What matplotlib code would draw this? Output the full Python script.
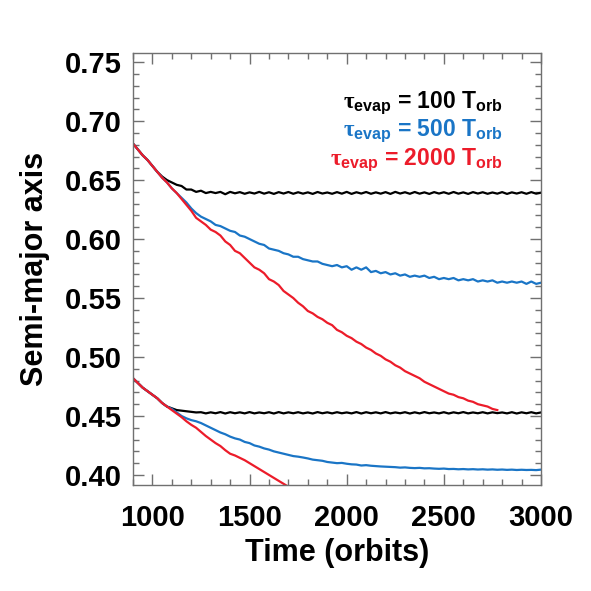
import numpy as np
import matplotlib
matplotlib.use('Agg')
import matplotlib.pyplot as plt
from matplotlib.ticker import MultipleLocator

plt.rcParams['font.family'] = ['Liberation Sans', 'DejaVu Sans']
plt.rcParams['font.weight'] = 'bold'
plt.rcParams['mathtext.fontset'] = 'custom'
plt.rcParams['mathtext.rm'] = 'Liberation Sans:bold'
plt.rcParams['mathtext.bf'] = 'Liberation Sans:bold'
plt.rcParams['mathtext.sf'] = 'Liberation Serif'

## time grid: one sample every 25 orbits, starting at 900
t0, dt = 900, 25

# --- upper group (start at a = 0.68) ---
a_up_100 = [0.681, 0.676, 0.671, 0.667, 0.662, 0.657, 0.653, 0.650, 0.648, 0.646,
            0.645, 0.642, 0.642, 0.640, 0.641, 0.639, 0.640, 0.639, 0.640, 0.638,
            0.640,
            0.6388, 0.6398, 0.6384, 0.6396, 0.6386, 0.6400, 0.6385, 0.6397, 0.6383, 0.6398,
            0.6386, 0.6399, 0.6384, 0.6397, 0.6385, 0.6396, 0.6383, 0.6399, 0.6386, 0.6395,
            0.6384, 0.6398, 0.6385, 0.6400, 0.6383, 0.6397, 0.6386, 0.6399, 0.6384, 0.6396,
            0.6385, 0.6398, 0.6383, 0.6400, 0.6386, 0.6397, 0.6384, 0.6399, 0.6385, 0.6396,
            0.6383, 0.6398, 0.6386, 0.6397, 0.6384, 0.6399, 0.6385, 0.6396, 0.6383, 0.6398,
            0.6386, 0.6397, 0.6384, 0.6395, 0.6385, 0.6398, 0.6383, 0.6396, 0.6386, 0.6397,
            0.6384, 0.6398, 0.6385, 0.6393]

a_up_500 = [0.681, 0.676, 0.671, 0.667, 0.662, 0.657, 0.652, 0.648, 0.643, 0.639,
            0.635, 0.631, 0.626, 0.622, 0.619, 0.617, 0.615, 0.612, 0.611, 0.609,
            0.607, 0.606, 0.603, 0.602, 0.600, 0.598, 0.596, 0.595, 0.592, 0.591,
            0.590, 0.588, 0.587, 0.585, 0.585, 0.583, 0.582, 0.581, 0.581, 0.579,
            0.578, 0.577, 0.578, 0.576, 0.577, 0.574, 0.576, 0.574, 0.576, 0.572,
            0.573, 0.571, 0.572, 0.570, 0.571, 0.569, 0.570, 0.568, 0.569, 0.568,
            0.569, 0.567, 0.568, 0.566, 0.567, 0.566, 0.567, 0.565, 0.566, 0.565,
            0.566, 0.564, 0.565, 0.564, 0.565, 0.563, 0.564, 0.563, 0.564, 0.563,
            0.564, 0.562, 0.564, 0.562, 0.563]

a_up_2000 = [0.681, 0.676, 0.671, 0.667, 0.662, 0.657, 0.652, 0.648, 0.643, 0.639,
             0.634, 0.629, 0.624, 0.618, 0.615, 0.612, 0.608, 0.606, 0.603, 0.598,
             0.595, 0.590, 0.588, 0.584, 0.580, 0.576, 0.574, 0.571, 0.566, 0.564,
             0.561, 0.556, 0.553, 0.550, 0.546, 0.543, 0.539, 0.537, 0.534, 0.532,
             0.529, 0.527, 0.523, 0.521, 0.518, 0.516, 0.513, 0.511, 0.508, 0.506,
             0.503, 0.501, 0.498, 0.496, 0.493, 0.491, 0.488, 0.486, 0.484, 0.482,
             0.479, 0.477, 0.475, 0.473, 0.471, 0.469, 0.468, 0.466, 0.465, 0.463,
             0.462, 0.460, 0.459, 0.458, 0.456, 0.455]

# --- lower group (start at a = 0.48) ---
a_lo_100 = [0.482, 0.478, 0.474, 0.471, 0.468, 0.465, 0.461, 0.458, 0.4565, 0.455,
            0.4545, 0.454, 0.4535, 0.453,
            0.4532, 0.4522, 0.4531, 0.4523, 0.4533, 0.4521, 0.4532, 0.4523, 0.4531, 0.4522,
            0.4533, 0.4522, 0.4530, 0.4523, 0.4532, 0.4521, 0.4533, 0.4522, 0.4531, 0.4523,
            0.4532, 0.4522, 0.4530, 0.4521, 0.4533, 0.4523, 0.4531, 0.4522, 0.4532, 0.4523,
            0.4530, 0.4522, 0.4533, 0.4521, 0.4532, 0.4523, 0.4531, 0.4522, 0.4533, 0.4522,
            0.4530, 0.4523, 0.4532, 0.4521, 0.4531, 0.4522, 0.4533, 0.4523, 0.4530, 0.4522,
            0.4532, 0.4521, 0.4531, 0.4523, 0.4533, 0.4522, 0.4530, 0.4523, 0.4532, 0.4522,
            0.4531, 0.4524, 0.4530, 0.4522, 0.4532, 0.4521, 0.4531, 0.4523, 0.4532, 0.4522,
            0.4530]

a_lo_500 = [0.482, 0.478, 0.474, 0.471, 0.468, 0.465, 0.461, 0.458, 0.456, 0.453,
            0.450, 0.448, 0.4465, 0.4455, 0.444, 0.442, 0.440, 0.438, 0.436, 0.4345,
            0.4325, 0.431, 0.430, 0.428, 0.427, 0.425, 0.424, 0.4225, 0.4215, 0.420,
            0.419, 0.418, 0.417, 0.416, 0.4155, 0.4148, 0.414, 0.413, 0.4125, 0.412,
            0.411, 0.4105, 0.410, 0.4102, 0.4095, 0.409, 0.4088, 0.408, 0.4083, 0.4078,
            0.4075, 0.4072, 0.407, 0.4068, 0.4066, 0.4062, 0.4064, 0.4060, 0.4058, 0.4060,
            0.4056, 0.4057, 0.4054, 0.4052, 0.4054, 0.4050, 0.4051, 0.4048, 0.4050, 0.4047,
            0.4049, 0.4046, 0.4048, 0.4045, 0.4047, 0.4044, 0.4046, 0.4043, 0.4045, 0.4042,
            0.4044, 0.4042, 0.4043, 0.4041, 0.4045]

a_lo_2000 = [0.482, 0.478, 0.474, 0.471, 0.468, 0.465, 0.461, 0.458, 0.455, 0.452,
             0.449, 0.4455, 0.4425, 0.440, 0.4365, 0.433, 0.430, 0.427, 0.4245, 0.421,
             0.418, 0.4165, 0.4145, 0.4125, 0.410, 0.4075, 0.405, 0.4025, 0.400, 0.3975,
             0.395, 0.3925, 0.390, 0.3875]

blue = '#1a75c6'
red = '#ec1c2a'
series = [(a_up_100, 'black'), (a_lo_100, 'black'),
          (a_up_500, blue), (a_lo_500, blue),
          (a_up_2000, red), (a_lo_2000, red)]

labels = [r'$\mathsf{\tau}_{\mathrm{evap}}$ = 100 T$_{\mathrm{orb}}$',
          r'$\mathsf{\tau}_{\mathrm{evap}}$ = 500 T$_{\mathrm{orb}}$',
          r'$\mathsf{\tau}_{\mathrm{evap}}$ = 2000 T$_{\mathrm{orb}}$']
label_colors = ['black', blue, red]

fig = plt.figure(figsize=(5.91, 5.91), dpi=100)
ax = fig.add_axes([0.225, 0.1794, 0.6904, 0.7314])

for a, c in series:
    t = t0 + dt * np.arange(len(a))
    ax.plot(t, a, color=c, lw=1.6)

ax.set_xlim(900, 3000)
ax.set_ylim(0.3915, 0.758)
ax.xaxis.set_major_locator(MultipleLocator(500))
ax.xaxis.set_minor_locator(MultipleLocator(100))
ax.yaxis.set_major_locator(MultipleLocator(0.05))
ax.yaxis.set_minor_locator(MultipleLocator(0.01))
ax.yaxis.set_major_formatter(matplotlib.ticker.FormatStrFormatter('%.2f'))

for s in ax.spines.values():
    s.set_color('#707070')
    s.set_linewidth(1.0)
ax.tick_params(which='both', direction='in', top=True, right=True, color='#707070',
               width=1.0, labelsize=21)
ax.tick_params(which='major', length=8)
ax.tick_params(which='minor', length=4.5)
ax.tick_params(axis='x', pad=14)
ax.tick_params(axis='y', pad=8)

ax.set_xlabel('Time (orbits)', fontsize=22, fontweight='bold', labelpad=4)
ax.set_ylabel('Semi-major axis', fontsize=22, fontweight='bold', labelpad=11)

for i, (lab, c) in enumerate(zip(labels, label_colors)):
    ax.text(0.907, 0.872 - i * 0.066, lab, color=c, fontsize=16.5, fontweight='bold',
            ha='right', va='baseline', transform=ax.transAxes)

fig.savefig('out.png', dpi=100)
